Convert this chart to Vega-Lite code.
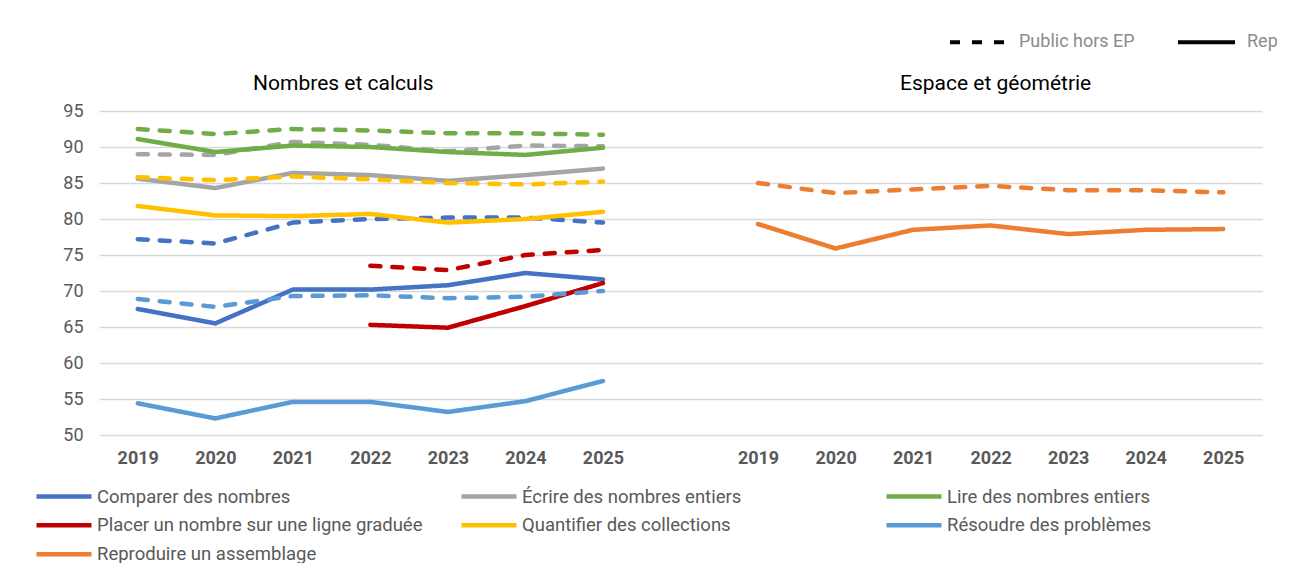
{
  "$schema": "https://vega.github.io/schema/vega-lite/v6.json",
  "autosize": {"type": "none"},
  "padding": {"left": 99, "top": 111, "right": 33, "bottom": 128},
  "width": 1163,
  "height": 324,
  "background": "white",
  "config": {
    "font": "Roboto",
    "view": {"stroke": null},
    "legend": {"padding": 0}
  },
  "datasets": {
    "series": [
      {"s": "Comparer des nombres", "t": "Public hors EP", "x": "L2019", "v": 77.2},
      {"s": "Comparer des nombres", "t": "Public hors EP", "x": "L2020", "v": 76.6},
      {"s": "Comparer des nombres", "t": "Public hors EP", "x": "L2021", "v": 79.5},
      {"s": "Comparer des nombres", "t": "Public hors EP", "x": "L2022", "v": 80.0},
      {"s": "Comparer des nombres", "t": "Public hors EP", "x": "L2023", "v": 80.2},
      {"s": "Comparer des nombres", "t": "Public hors EP", "x": "L2024", "v": 80.2},
      {"s": "Comparer des nombres", "t": "Public hors EP", "x": "L2025", "v": 79.5},
      {"s": "Comparer des nombres", "t": "Rep", "x": "L2019", "v": 67.5},
      {"s": "Comparer des nombres", "t": "Rep", "x": "L2020", "v": 65.5},
      {"s": "Comparer des nombres", "t": "Rep", "x": "L2021", "v": 70.2},
      {"s": "Comparer des nombres", "t": "Rep", "x": "L2022", "v": 70.2},
      {"s": "Comparer des nombres", "t": "Rep", "x": "L2023", "v": 70.8},
      {"s": "Comparer des nombres", "t": "Rep", "x": "L2024", "v": 72.5},
      {"s": "Comparer des nombres", "t": "Rep", "x": "L2025", "v": 71.6},
      {"s": "Écrire des nombres entiers", "t": "Public hors EP", "x": "L2019", "v": 89.0},
      {"s": "Écrire des nombres entiers", "t": "Public hors EP", "x": "L2020", "v": 88.9},
      {"s": "Écrire des nombres entiers", "t": "Public hors EP", "x": "L2021", "v": 90.7},
      {"s": "Écrire des nombres entiers", "t": "Public hors EP", "x": "L2022", "v": 90.3},
      {"s": "Écrire des nombres entiers", "t": "Public hors EP", "x": "L2023", "v": 89.4},
      {"s": "Écrire des nombres entiers", "t": "Public hors EP", "x": "L2024", "v": 90.2},
      {"s": "Écrire des nombres entiers", "t": "Public hors EP", "x": "L2025", "v": 90.1},
      {"s": "Écrire des nombres entiers", "t": "Rep", "x": "L2019", "v": 85.6},
      {"s": "Écrire des nombres entiers", "t": "Rep", "x": "L2020", "v": 84.3},
      {"s": "Écrire des nombres entiers", "t": "Rep", "x": "L2021", "v": 86.4},
      {"s": "Écrire des nombres entiers", "t": "Rep", "x": "L2022", "v": 86.1},
      {"s": "Écrire des nombres entiers", "t": "Rep", "x": "L2023", "v": 85.3},
      {"s": "Écrire des nombres entiers", "t": "Rep", "x": "L2024", "v": 86.1},
      {"s": "Écrire des nombres entiers", "t": "Rep", "x": "L2025", "v": 87.0},
      {"s": "Lire des nombres entiers", "t": "Public hors EP", "x": "L2019", "v": 92.5},
      {"s": "Lire des nombres entiers", "t": "Public hors EP", "x": "L2020", "v": 91.8},
      {"s": "Lire des nombres entiers", "t": "Public hors EP", "x": "L2021", "v": 92.5},
      {"s": "Lire des nombres entiers", "t": "Public hors EP", "x": "L2022", "v": 92.3},
      {"s": "Lire des nombres entiers", "t": "Public hors EP", "x": "L2023", "v": 91.9},
      {"s": "Lire des nombres entiers", "t": "Public hors EP", "x": "L2024", "v": 91.9},
      {"s": "Lire des nombres entiers", "t": "Public hors EP", "x": "L2025", "v": 91.7},
      {"s": "Lire des nombres entiers", "t": "Rep", "x": "L2019", "v": 91.1},
      {"s": "Lire des nombres entiers", "t": "Rep", "x": "L2020", "v": 89.3},
      {"s": "Lire des nombres entiers", "t": "Rep", "x": "L2021", "v": 90.2},
      {"s": "Lire des nombres entiers", "t": "Rep", "x": "L2022", "v": 90.0},
      {"s": "Lire des nombres entiers", "t": "Rep", "x": "L2023", "v": 89.3},
      {"s": "Lire des nombres entiers", "t": "Rep", "x": "L2024", "v": 88.9},
      {"s": "Lire des nombres entiers", "t": "Rep", "x": "L2025", "v": 89.9},
      {"s": "Placer un nombre sur une ligne graduée", "t": "Public hors EP", "x": "L2022", "v": 73.5},
      {"s": "Placer un nombre sur une ligne graduée", "t": "Public hors EP", "x": "L2023", "v": 72.9},
      {"s": "Placer un nombre sur une ligne graduée", "t": "Public hors EP", "x": "L2024", "v": 75.0},
      {"s": "Placer un nombre sur une ligne graduée", "t": "Public hors EP", "x": "L2025", "v": 75.7},
      {"s": "Placer un nombre sur une ligne graduée", "t": "Rep", "x": "L2022", "v": 65.3},
      {"s": "Placer un nombre sur une ligne graduée", "t": "Rep", "x": "L2023", "v": 64.9},
      {"s": "Placer un nombre sur une ligne graduée", "t": "Rep", "x": "L2024", "v": 67.9},
      {"s": "Placer un nombre sur une ligne graduée", "t": "Rep", "x": "L2025", "v": 71.1},
      {"s": "Quantifier des collections", "t": "Public hors EP", "x": "L2019", "v": 85.8},
      {"s": "Quantifier des collections", "t": "Public hors EP", "x": "L2020", "v": 85.4},
      {"s": "Quantifier des collections", "t": "Public hors EP", "x": "L2021", "v": 85.9},
      {"s": "Quantifier des collections", "t": "Public hors EP", "x": "L2022", "v": 85.5},
      {"s": "Quantifier des collections", "t": "Public hors EP", "x": "L2023", "v": 85.0},
      {"s": "Quantifier des collections", "t": "Public hors EP", "x": "L2024", "v": 84.8},
      {"s": "Quantifier des collections", "t": "Public hors EP", "x": "L2025", "v": 85.2},
      {"s": "Quantifier des collections", "t": "Rep", "x": "L2019", "v": 81.8},
      {"s": "Quantifier des collections", "t": "Rep", "x": "L2020", "v": 80.5},
      {"s": "Quantifier des collections", "t": "Rep", "x": "L2021", "v": 80.4},
      {"s": "Quantifier des collections", "t": "Rep", "x": "L2022", "v": 80.7},
      {"s": "Quantifier des collections", "t": "Rep", "x": "L2023", "v": 79.5},
      {"s": "Quantifier des collections", "t": "Rep", "x": "L2024", "v": 80.0},
      {"s": "Quantifier des collections", "t": "Rep", "x": "L2025", "v": 81.0},
      {"s": "Résoudre des problèmes", "t": "Public hors EP", "x": "L2019", "v": 68.9},
      {"s": "Résoudre des problèmes", "t": "Public hors EP", "x": "L2020", "v": 67.8},
      {"s": "Résoudre des problèmes", "t": "Public hors EP", "x": "L2021", "v": 69.3},
      {"s": "Résoudre des problèmes", "t": "Public hors EP", "x": "L2022", "v": 69.4},
      {"s": "Résoudre des problèmes", "t": "Public hors EP", "x": "L2023", "v": 69.0},
      {"s": "Résoudre des problèmes", "t": "Public hors EP", "x": "L2024", "v": 69.2},
      {"s": "Résoudre des problèmes", "t": "Public hors EP", "x": "L2025", "v": 70.0},
      {"s": "Résoudre des problèmes", "t": "Rep", "x": "L2019", "v": 54.4},
      {"s": "Résoudre des problèmes", "t": "Rep", "x": "L2020", "v": 52.3},
      {"s": "Résoudre des problèmes", "t": "Rep", "x": "L2021", "v": 54.6},
      {"s": "Résoudre des problèmes", "t": "Rep", "x": "L2022", "v": 54.6},
      {"s": "Résoudre des problèmes", "t": "Rep", "x": "L2023", "v": 53.2},
      {"s": "Résoudre des problèmes", "t": "Rep", "x": "L2024", "v": 54.7},
      {"s": "Résoudre des problèmes", "t": "Rep", "x": "L2025", "v": 57.5},
      {"s": "Reproduire un assemblage", "t": "Public hors EP", "x": "R2019", "v": 85.0},
      {"s": "Reproduire un assemblage", "t": "Public hors EP", "x": "R2020", "v": 83.6},
      {"s": "Reproduire un assemblage", "t": "Public hors EP", "x": "R2021", "v": 84.1},
      {"s": "Reproduire un assemblage", "t": "Public hors EP", "x": "R2022", "v": 84.6},
      {"s": "Reproduire un assemblage", "t": "Public hors EP", "x": "R2023", "v": 84.0},
      {"s": "Reproduire un assemblage", "t": "Public hors EP", "x": "R2024", "v": 84.0},
      {"s": "Reproduire un assemblage", "t": "Public hors EP", "x": "R2025", "v": 83.7},
      {"s": "Reproduire un assemblage", "t": "Rep", "x": "R2019", "v": 79.3},
      {"s": "Reproduire un assemblage", "t": "Rep", "x": "R2020", "v": 75.9},
      {"s": "Reproduire un assemblage", "t": "Rep", "x": "R2021", "v": 78.5},
      {"s": "Reproduire un assemblage", "t": "Rep", "x": "R2022", "v": 79.1},
      {"s": "Reproduire un assemblage", "t": "Rep", "x": "R2023", "v": 77.9},
      {"s": "Reproduire un assemblage", "t": "Rep", "x": "R2024", "v": 78.5},
      {"s": "Reproduire un assemblage", "t": "Rep", "x": "R2025", "v": 78.6}
    ],
    "titles": [
      {"label": "Nombres et calculs", "x": "L2022", "v": 98.75},
      {"label": "Espace et géométrie", "x": "R2022", "v": 98.75}
    ]
  },
  "encoding": {
    "x": {
      "field": "x", "type": "ordinal",
      "scale": {"type": "point", "padding": 0.5,
        "domain": ["L2019","L2020","L2021","L2022","L2023","L2024","L2025","gap","R2019","R2020","R2021","R2022","R2023","R2024","R2025"]},
      "axis": {
        "title": null, "domain": false, "ticks": false, "grid": false,
        "labelAngle": 0, "labelFontSize": 18, "labelFontWeight": "bold",
        "labelColor": "#595959", "labelPadding": 14,
        "labelExpr": "datum.value == 'gap' ? '' : slice(datum.value, 1)"
      }
    },
    "y": {
      "field": "v", "type": "quantitative",
      "scale": {"domain": [50, 95], "nice": false, "zero": false},
      "axis": {
        "title": null, "domain": false, "ticks": false,
        "values": [50,55,60,65,70,75,80,85,90,95],
        "labelOverlap": false, "labelFlush": false,
        "labelFontSize": 18, "labelColor": "#595959", "labelPadding": 16,
        "gridColor": "#d9d9d9", "gridWidth": 1.5
      }
    }
  },
  "layer": [
    {
      "data": {"name": "series"},
      "mark": {"type": "line", "strokeWidth": 4.5, "strokeCap": "round", "strokeJoin": "round"},
      "encoding": {
        "color": {
          "field": "s", "type": "nominal",
          "scale": {
            "domain": ["Comparer des nombres","Écrire des nombres entiers","Lire des nombres entiers","Placer un nombre sur une ligne graduée","Quantifier des collections","Résoudre des problèmes","Reproduire un assemblage"],
            "range": ["#4472C4","#A5A5A5","#70AD47","#C00000","#FFC000","#5B9BD5","#ED7D31"]
          },
          "legend": {
            "title": null, "orient": "none", "legendX": -65, "legendY": 371,
            "direction": "horizontal", "columns": 3, "gridAlign": "all",
            "columnPadding": 36, "rowPadding": 0, "clipHeight": 28.5,
            "symbolType": "stroke", "symbolSize": 3025, "symbolStrokeWidth": 4.5,
            "labelFontSize": 18.5, "labelColor": "#595959", "labelOffset": 3, "labelLimit": 500
          }
        },
        "strokeDash": {
          "field": "t", "type": "nominal",
          "scale": {"domain": ["Public hors EP","Rep"], "range": [[10, 12], [1, 0]]},
          "legend": {
            "title": null, "orient": "none", "legendX": 849, "legendY": -99.5,
            "direction": "horizontal", "columnPadding": 35,
            "symbolType": "stroke", "symbolSize": 3249, "symbolStrokeWidth": 4,
            "symbolStrokeColor": "black",
            "labelFontSize": 18, "labelColor": "#8c8c8c", "labelOffset": 10
          }
        }
      }
    },
    {
      "data": {"name": "titles"},
      "transform": [{"filter": "datum.x == 'L2022'"}],
      "mark": {"type": "text", "fontSize": 21, "color": "black", "baseline": "middle", "align": "center", "dx": -27},
      "encoding": {"text": {"field": "label"}}
    },
    {
      "data": {"name": "titles"},
      "transform": [{"filter": "datum.x == 'R2022'"}],
      "mark": {"type": "text", "fontSize": 21, "color": "black", "baseline": "middle", "align": "center", "dx": 5},
      "encoding": {"text": {"field": "label"}}
    }
  ]
}
